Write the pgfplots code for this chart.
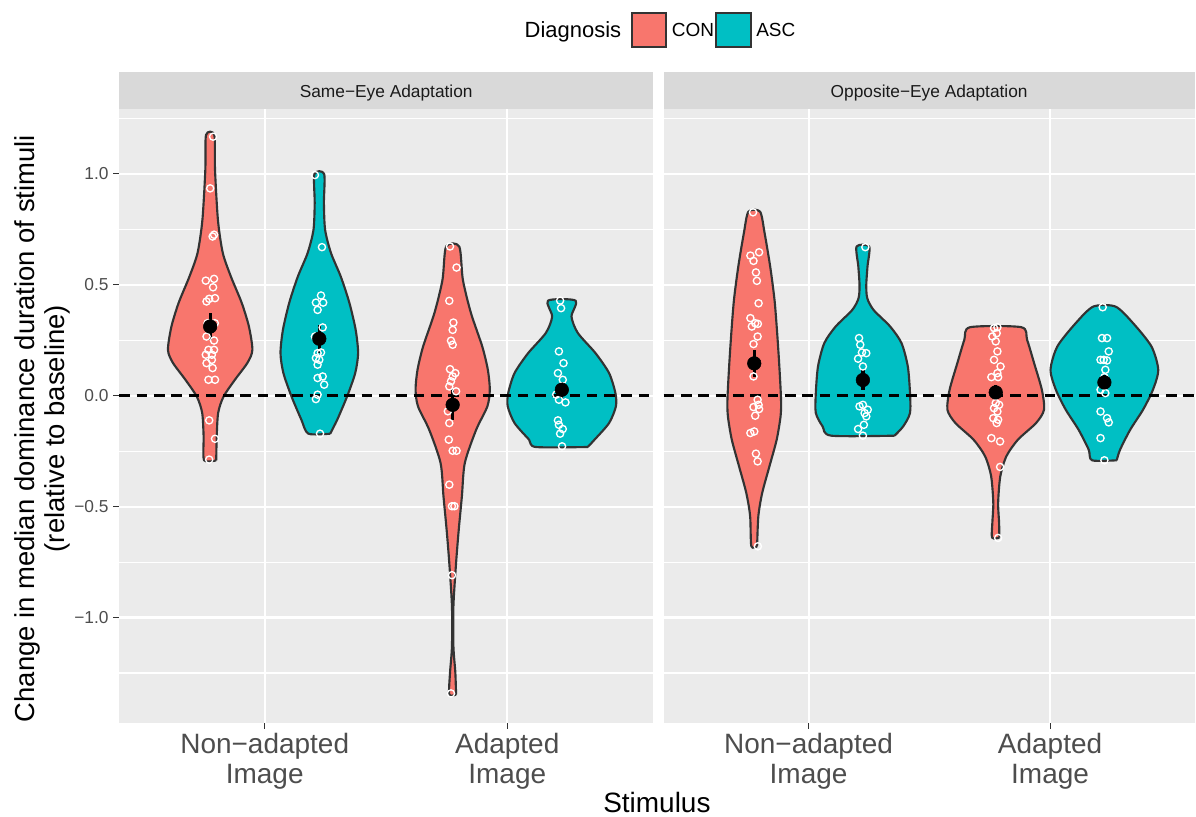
\documentclass[border=0pt]{standalone}
\usepackage{fontspec}
\setmainfont{Liberation Sans}
\usepackage{pgfplots}
\pgfplotsset{compat=1.18}
\usepackage{pgfplotstable}
\definecolor{conc}{HTML}{F8766D}
\definecolor{ascc}{HTML}{00BFC4}
\definecolor{panelbg}{HTML}{EBEBEB}
\definecolor{stripbg}{HTML}{D9D9D9}
\definecolor{vline}{HTML}{333333}
\definecolor{tickgray}{HTML}{4D4D4D}
\definecolor{tickline}{HTML}{333333}
\definecolor{striptext}{HTML}{1A1A1A}

% violin outlines: signed half-width (x units), y
\pgfplotstableread{
dx y
0.025 -0.291
0.027 -0.183
0.033 -0.077
0.055 -0.004
0.102 0.072
0.154 0.149
0.174 0.207
0.160 0.311
0.130 0.419
0.086 0.536
0.052 0.644
0.032 0.793
0.020 1.018
0.017 1.176
-0.017 1.176
-0.020 1.018
-0.032 0.793
-0.052 0.644
-0.086 0.536
-0.130 0.419
-0.160 0.311
-0.174 0.207
-0.154 0.149
-0.102 0.072
-0.055 -0.004
-0.033 -0.077
-0.027 -0.183
-0.025 -0.291
0.025 -0.291
}\vA
\pgfplotstableread{
dx y
0.045 -0.171
0.074 -0.108
0.115 -0.002
0.148 0.102
0.160 0.192
0.150 0.297
0.124 0.419
0.089 0.536
0.048 0.644
0.024 0.748
0.019 0.868
0.020 1.000
-0.020 1.000
-0.019 0.868
-0.024 0.748
-0.048 0.644
-0.089 0.536
-0.124 0.419
-0.150 0.297
-0.160 0.192
-0.148 0.102
-0.115 -0.002
-0.074 -0.108
-0.045 -0.171
0.045 -0.171
}\vB
\pgfplotstableread{
dx y
0.014 -1.347
0.011 -1.249
0.003 -1.130
0.003 -0.949
0.014 -0.754
0.025 -0.604
0.038 -0.453
0.050 -0.303
0.097 -0.153
0.143 -0.048
0.153 0.027
0.145 0.117
0.122 0.222
0.075 0.374
0.042 0.523
0.027 0.673
-0.027 0.673
-0.042 0.523
-0.075 0.374
-0.122 0.222
-0.145 0.117
-0.153 0.027
-0.143 -0.048
-0.097 -0.153
-0.050 -0.303
-0.038 -0.453
-0.025 -0.604
-0.014 -0.754
-0.003 -0.949
-0.003 -1.130
-0.011 -1.249
-0.014 -1.347
0.014 -1.347
}\vC
\pgfplotstableread{
dx y
0.107 -0.231
0.135 -0.198
0.195 -0.123
0.223 -0.048
0.221 0.012
0.195 0.102
0.139 0.192
0.066 0.283
0.040 0.357
0.057 0.429
-0.057 0.429
-0.040 0.357
-0.066 0.283
-0.139 0.192
-0.195 0.102
-0.221 0.012
-0.223 -0.048
-0.195 -0.123
-0.135 -0.198
-0.107 -0.231
0.107 -0.231
}\vD
\pgfplotstableread{
dx y
0.012 -0.678
0.017 -0.543
0.033 -0.438
0.063 -0.318
0.093 -0.198
0.109 -0.093
0.111 -0.018
0.104 0.132
0.095 0.282
0.084 0.432
0.066 0.583
0.043 0.733
0.024 0.830
-0.024 0.830
-0.043 0.733
-0.066 0.583
-0.084 0.432
-0.095 0.282
-0.104 0.132
-0.111 -0.018
-0.109 -0.093
-0.093 -0.198
-0.063 -0.318
-0.033 -0.438
-0.017 -0.543
-0.012 -0.678
0.012 -0.678
}\vE
\pgfplotstableread{
dx y
0.131 -0.180
0.167 -0.138
0.195 -0.078
0.195 0.012
0.186 0.132
0.160 0.237
0.113 0.312
0.044 0.387
0.018 0.440
0.014 0.500
0.019 0.583
0.026 0.673
-0.026 0.673
-0.019 0.583
-0.014 0.500
-0.018 0.440
-0.044 0.387
-0.113 0.312
-0.160 0.237
-0.186 0.132
-0.195 0.012
-0.195 -0.078
-0.167 -0.138
-0.131 -0.180
0.131 -0.180
}\vF
\pgfplotstableread{
dx y
0.015 -0.640
0.014 -0.573
0.010 -0.483
0.019 -0.363
0.044 -0.273
0.092 -0.198
0.167 -0.123
0.200 -0.063
0.191 0.027
0.159 0.147
0.130 0.252
0.106 0.309
-0.106 0.309
-0.130 0.252
-0.159 0.147
-0.191 0.027
-0.200 -0.063
-0.167 -0.123
-0.092 -0.198
-0.044 -0.273
-0.019 -0.363
-0.010 -0.483
-0.014 -0.573
-0.015 -0.640
0.015 -0.640
}\vG
\pgfplotstableread{
dx y
0.051 -0.291
0.065 -0.243
0.107 -0.153
0.160 -0.063
0.201 0.027
0.223 0.117
0.195 0.222
0.119 0.327
0.046 0.402
-0.046 0.402
-0.119 0.327
-0.195 0.222
-0.223 0.117
-0.201 0.027
-0.160 -0.063
-0.107 -0.153
-0.065 -0.243
-0.051 -0.291
0.051 -0.291
}\vH

% individual points: jitter offset, value
\pgfplotstableread{
dx y
0.012 1.168
0 0.935
0.010 0.718
0.016 0.726
-0.018 0.519
0.016 0.527
0.012 0.489
-0.015 0.425
-0.004 0.437
0.020 0.440
-0.011 0.327
0.019 0.327
-0.015 0.267
0.016 0.249
-0.007 0.207
0.016 0.207
-0.018 0.185
0.007 0.185
-0.015 0.147
0.007 0.162
0.010 0.125
-0.007 0.072
0.020 0.072
-0.004 -0.111
0.020 -0.194
-0.004 -0.288
}\pA
\pgfplotstableread{
dx y
-0.018 0.995
0.011 0.670
0.007 0.452
-0.014 0.420
0.016 0.420
-0.007 0.387
0.014 0.308
-0.018 0.267
-0.007 0.192
0.007 0.195
-0.014 0.170
0 0.162
-0.007 0.140
0.014 0.087
-0.007 0.080
0.020 0.050
-0.007 0.005
-0.014 -0.015
0.003 -0.171
}\pB
\pgfplotstableread{
dx y
-0.011 0.673
0.016 0.578
-0.014 0.428
0.003 0.330
0 0.297
-0.007 0.248
0 0.230
-0.011 0.120
0.011 0.102
0 0.087
-0.007 0.065
-0.014 0.042
0.014 0.020
-0.020 -0.070
-0.014 -0.123
-0.016 -0.198
0 -0.248
0.016 -0.248
-0.014 -0.401
-0.003 -0.498
0.007 -0.498
-0.003 -0.809
-0.007 -1.342
}\pC
\pgfplotstableread{
dx y
-0.007 0.429
-0.003 0.395
-0.012 0.200
0.007 0.147
-0.016 0.102
0.004 0.072
-0.023 0.005
-0.012 -0.018
0.015 -0.030
-0.016 -0.111
-0.012 -0.131
0.004 -0.150
-0.007 -0.171
0.001 -0.228
}\pD
\pgfplotstableread{
dx y
-0.005 0.827
-0.016 0.632
0.020 0.647
-0.003 0.608
0.007 0.556
0.011 0.518
0.018 0.417
-0.016 0.350
-0.010 0.312
0.004 0.327
0.015 0.324
0.014 0.267
-0.003 0.233
-0.003 0.087
0.014 -0.018
0.018 -0.041
-0.003 -0.051
0.020 -0.060
0.004 -0.090
-0.016 -0.168
0 -0.161
0.007 -0.261
0.014 -0.296
0.015 -0.679
}\pE
\pgfplotstableread{
dx y
0.010 0.670
-0.016 0.260
-0.011 0.230
-0.004 0.195
0.014 0.192
-0.020 0.167
0 0.132
-0.007 0.065
-0.014 -0.048
0 -0.041
0.020 -0.063
0.007 -0.078
0.014 -0.093
0.004 -0.131
-0.020 -0.150
0 -0.180
}\pF
\pgfplotstableread{
dx y
0.007 0.309
-0.007 0.305
0.004 0.282
-0.014 0.267
0 0.245
0.007 0.200
-0.007 0.162
0.020 0.132
0.007 0.102
-0.018 0.084
0.010 0.084
0 -0.033
0.014 -0.041
-0.007 -0.056
0.007 -0.071
-0.010 -0.101
0.010 -0.108
0.004 -0.123
-0.018 -0.191
0.018 -0.206
0.018 -0.321
0.010 -0.641
}\pG
\pgfplotstableread{
dx y
-0.007 0.399
-0.010 0.260
0.011 0.260
0.018 0.200
-0.016 0.162
-0.003 0.162
0.011 0.159
0.004 0.117
0 0.084
-0.016 0.027
0.004 0.012
-0.016 -0.071
0.011 -0.101
0.018 -0.120
-0.016 -0.191
0 -0.291
}\pH

\newcommand\violin[3]{%
  \addplot[fill=#3, draw=vline, line width=1.6pt, line join=round, smooth, tension=0.45] table[x expr=#2+\thisrow{dx}, y=y]{#1};
}
\newcommand\pts[2]{%
  \addplot[white, only marks, mark=o, mark size=2.7pt, mark options={line width=1pt}] table[x expr=#2+\thisrow{dx}, y=y]{#1};
}

\pgfplotsset{
  panel/.style={
    scale only axis, height=460.7pt,
    xmin=0.4, xmax=2.6, ymin=-1.474, ymax=1.293,
    axis background/.style={fill=panelbg},
    axis line style={draw=none},
    xtick={1,2},
    xticklabels={{Non−adapted\\Image},{Adapted\\Image}},
    xticklabel style={align=center, font=\fontsize{21}{22.5}\selectfont, text=tickgray},
    ytick={-1,-0.5,0,0.5,1},
    minor ytick={-1.25,-0.75,-0.25,0.25,0.75,1.25},
    grid=both,
    major grid style={white, line width=1.6pt},
    minor grid style={white, line width=0.8pt},
    tick align=outside,
    xtick pos=left, ytick pos=left,
    major tick length=4.5pt, minor tick length=0pt,
    tick style={tickline, line width=0.8pt},
  }
}

\begin{document}
\begin{tikzpicture}
\path (0,0) rectangle (897pt,612pt);

\begin{axis}[panel, name=L, at={(89.5pt,69.5pt)}, anchor=south west, width=400.5pt,
  yticklabels={−1.0,−0.5,0.0,0.5,1.0},
  yticklabel style={font=\fontsize{13}{15}\selectfont, text=tickgray}]
  \violin{\vA}{0.775}{conc}
  \violin{\vB}{1.225}{ascc}
  \violin{\vC}{1.775}{conc}
  \violin{\vD}{2.225}{ascc}
  \addplot[black, line width=2.2pt, dash pattern=on 8pt off 5pt] coordinates {(0.4,0) (2.6,0)};
  \pts{\pA}{0.775}
  \pts{\pB}{1.225}
  \pts{\pC}{1.775}
  \pts{\pD}{2.225}
  \addplot[black, only marks, mark=*, mark size=5.1pt,
    error bars/.cd, y dir=both, y explicit, error mark=none,
    error bar style={line width=2.5pt, black}]
    coordinates {(0.775,0.312) +- (0,0.060) (1.225,0.257) +- (0,0.063)
                 (1.775,-0.041) +- (0,0.070) (2.225,0.027) +- (0,0.035)};
\end{axis}

\begin{axis}[panel, name=R, at={(498.2pt,69.5pt)}, anchor=south west, width=398.8pt,
  yticklabels={}, y tick style={draw=none}]
  \violin{\vE}{0.775}{conc}
  \violin{\vF}{1.225}{ascc}
  \violin{\vG}{1.775}{conc}
  \violin{\vH}{2.225}{ascc}
  \addplot[black, line width=2.2pt, dash pattern=on 8pt off 5pt] coordinates {(0.4,0) (2.6,0)};
  \pts{\pE}{0.775}
  \pts{\pF}{1.225}
  \pts{\pG}{1.775}
  \pts{\pH}{2.225}
  \addplot[black, only marks, mark=*, mark size=5.1pt,
    error bars/.cd, y dir=both, y explicit, error mark=none,
    error bar style={line width=2.5pt, black}]
    coordinates {(0.775,0.146) +- (0,0.060) (1.225,0.071) +- (0,0.047)
                 (1.775,0.015) +- (0,0.034) (2.225,0.060) +- (0,0.034)};
\end{axis}

% facet strips
\fill[stripbg] (L.north west) rectangle ([yshift=27.5pt]L.north east);
\fill[stripbg] (R.north west) rectangle ([yshift=27.5pt]R.north east);
\node[anchor=base, inner sep=0pt, text=striptext, font=\fontsize{13}{15}\selectfont] at (289.9pt,539pt) {Same−Eye Adaptation};
\node[anchor=base, inner sep=0pt, text=striptext, font=\fontsize{13}{15}\selectfont] at (697.5pt,539pt) {Opposite−Eye Adaptation};

% axis titles
\node[rotate=90, align=center, font=\fontsize{20.6}{22.5}\selectfont] at (31.5pt,290.25pt) {Change in median dominance duration of stimuli\\(relative to baseline)};
\node[font=\fontsize{21}{22.5}\selectfont] at (493.1pt,9.75pt) {Stimulus};

% legend
\node[anchor=base, inner sep=0pt, font=\fontsize{16.5}{18}\selectfont] at (430.1pt,584pt) {Diagnosis};
\filldraw[fill=conc, draw=vline, line width=1.5pt] (474.5pt,577pt) rectangle (500pt,602.5pt);
\node[anchor=base west, inner sep=0pt, font=\fontsize{14.25}{16}\selectfont] at (504.2pt,584.5pt) {CON};
\filldraw[fill=ascc, draw=vline, line width=1.5pt] (537.5pt,577pt) rectangle (563.75pt,602.5pt);
\node[anchor=base west, inner sep=0pt, font=\fontsize{14.25}{16}\selectfont] at (567.5pt,584.5pt) {ASC};
\end{tikzpicture}
\end{document}
